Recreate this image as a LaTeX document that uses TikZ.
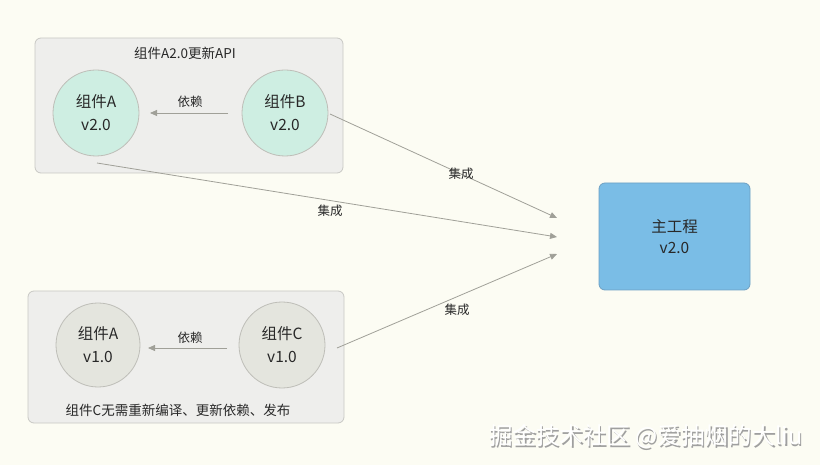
\documentclass[tikz,border=0pt]{standalone}
\usepackage{fontspec}
\setmainfont{Noto Sans CJK SC}
\usetikzlibrary{arrows.meta}
\definecolor{bg}{RGB}{252,252,243}
\definecolor{grpfill}{RGB}{238,238,236}
\definecolor{grpline}{RGB}{200,200,196}
\definecolor{tealfill}{RGB}{206,238,226}
\definecolor{grayfill}{RGB}{228,229,222}
\definecolor{circline}{RGB}{190,190,184}
\definecolor{mainfill}{RGB}{122,189,230}
\definecolor{mainline}{RGB}{110,160,195}
\definecolor{arrcol}{RGB}{160,160,152}
\definecolor{txt}{RGB}{40,40,40}
\tikzset{
  x=1pt,y=-1pt,
  grp/.style={draw=grpline,fill=grpfill,rounded corners=6pt,line width=0.8pt},
  comp/.style={circle,draw=circline,line width=0.8pt,minimum size=86pt,inner sep=0pt,align=center,font=\fontsize{15.5}{23}\selectfont,text=txt},
  mainbox/.style={draw=mainline,fill=mainfill,rounded corners=6pt,line width=0.8pt,minimum width=151pt,minimum height=107pt,align=center,font=\fontsize{15.5}{21}\selectfont,text=txt},
  lbl/.style={font=\fontsize{12.5}{14}\selectfont,text=txt},
  conn/.style={draw=arrcol,line width=0.8pt,-{Triangle[length=7pt,width=6pt]}},
}
\begin{document}
\begin{tikzpicture}
\fill[bg] (0,0) rectangle (820,465);
\useasboundingbox (0,0) rectangle (820,465);
% groups
\draw[grp] (35,38) rectangle (343,173);
\draw[grp] (28,291) rectangle (344,423);
\node[lbl,font=\fontsize{13.5}{16}\selectfont] (t1) at (185,53) {组件A2.0更新API};
\node[lbl,font=\fontsize{13.5}{16}\selectfont] (t2) at (178,410) {组件C无需重新编译、更新依赖、发布};
% components
\node[comp,fill=tealfill] (a2) at (96,113) {组件A\\v2.0};
\node[comp,fill=tealfill] (b2) at (285,113) {组件B\\v2.0};
\node[comp,fill=grayfill,minimum size=84pt] (a1) at (98,345) {组件A\\v1.0};
\node[comp,fill=grayfill] (c1) at (282,345) {组件C\\v1.0};
\node[mainbox] (main) at (674.5,236.5) {主工程\\v2.0};
% coordinates
\coordinate (d1s) at (228,113);
\coordinate (d1e) at (150,113);
\coordinate (d2s) at (227,348);
\coordinate (d2e) at (148,348);
\coordinate (i1s) at (330,114);
\coordinate (i1e) at (557,218);
\coordinate (i2s) at (97,163);
\coordinate (i2e) at (557,237);
\coordinate (i3s) at (337,348);
\coordinate (i3e) at (557,254);
% dependencies
\draw[conn] (d1s) -- (d1e);
\node[lbl] (l1) at (190,102) {依赖};
\draw[conn] (d2s) -- (d2e);
\node[lbl] (l2) at (190,338) {依赖};
% integration
\draw[conn] (i1s) -- (i1e);
\node[lbl] (l3) at (461,174) {集成};
\draw[conn] (i2s) -- (i2e);
\node[lbl] (l4) at (330,211) {集成};
\draw[conn] (i3s) -- (i3e);
\node[lbl] (l5) at (457,310) {集成};
% watermark
\node[font=\fontsize{23.5}{26}\selectfont,text=gray!75] (wms) at (647.4,438.4) {掘金技术社区 @爱抽烟的大liu};
\node[font=\fontsize{23.5}{26}\selectfont,text=white] (wm) at (646,437) {掘金技术社区 @爱抽烟的大liu};
\end{tikzpicture}
\end{document}
